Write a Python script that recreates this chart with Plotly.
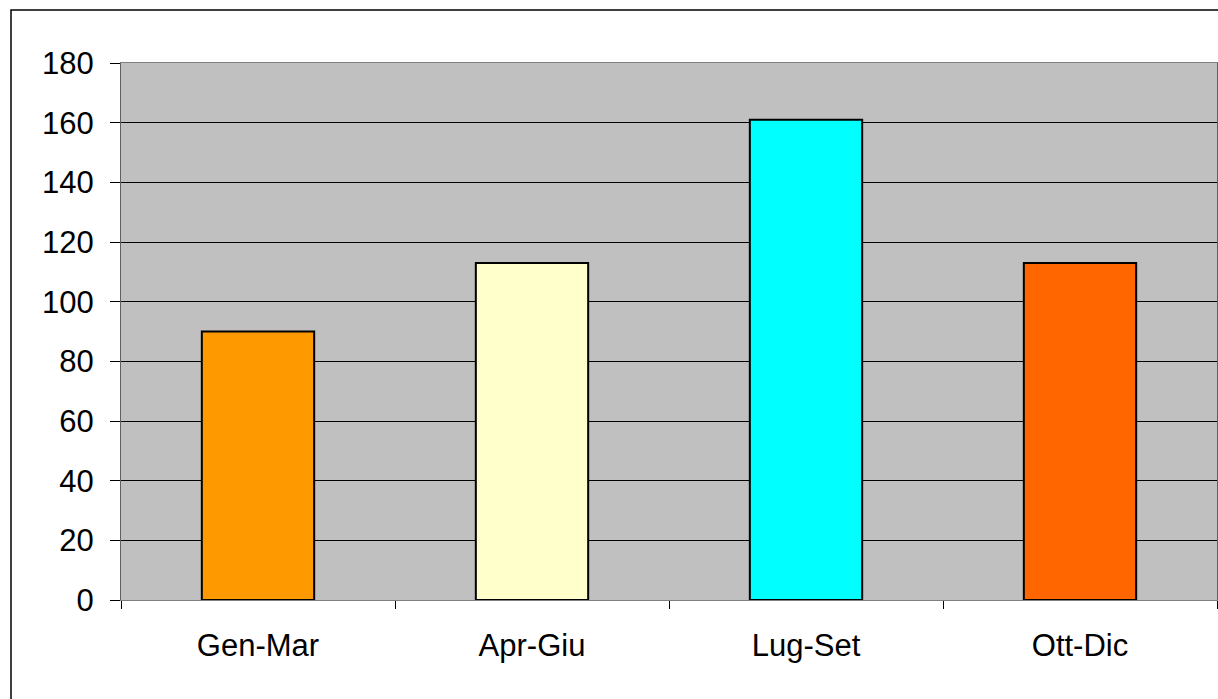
import plotly.graph_objects as go

categories = ["Gen-Mar", "Apr-Giu", "Lug-Set", "Ott-Dic"]
values = [90, 113, 161, 113]
bar_colors = ["#FF9900", "#FFFFCC", "#00FFFF", "#FF6600"]
y_ticks = [0, 20, 40, 60, 80, 100, 120, 140, 160, 180]

W, H = 1218, 699
L, R, T, B = 121, 1, 63, 99
pw, ph = W - L - R, H - T - B

fig = go.Figure(go.Bar(
    x=categories, y=values,
    marker=dict(color=bar_colors, line=dict(color="black", width=2)),
))

font = dict(family="Liberation Sans, Arial, sans-serif", size=31, color="black")

fig.update_layout(
    width=W, height=H,
    margin=dict(l=L, r=R, t=T, b=B, pad=0),
    paper_bgcolor="white", plot_bgcolor="#C0C0C0",
    bargap=0.59, showlegend=False, font=font,
    xaxis=dict(
        showline=True, linecolor="#808080", linewidth=1, mirror=True,
        ticks="outside", ticklen=8, tickcolor="black", tickson="boundaries",
        showgrid=False, tickfont=font, ticklabelstandoff=18,
    ),
    yaxis=dict(
        range=[0, 180], tickvals=y_ticks, ticktext=[str(v) for v in y_ticks],
        showline=True, linecolor="#606060", linewidth=1, mirror=True,
        ticks="outside", ticklen=10, tickcolor="black",
        showgrid=True, gridcolor="black", gridwidth=1,
        zeroline=True, zerolinecolor="black", zerolinewidth=1,
        tickfont=font, ticklabelstandoff=10,
    ),
    shapes=[dict(
        type="rect", xref="paper", yref="paper",
        x0=(11 - L) / pw, x1=1.02,
        y0=-0.2, y1=1 + (T - 10) / ph,
        line=dict(color="black", width=1.5), fillcolor="rgba(0,0,0,0)",
        layer="above",
    )],
)

fig.write_html(
    "out.html",
    config={"displayModeBar": False},
    post_script="document.body.style.margin='0';document.body.style.overflow='hidden';",
)
